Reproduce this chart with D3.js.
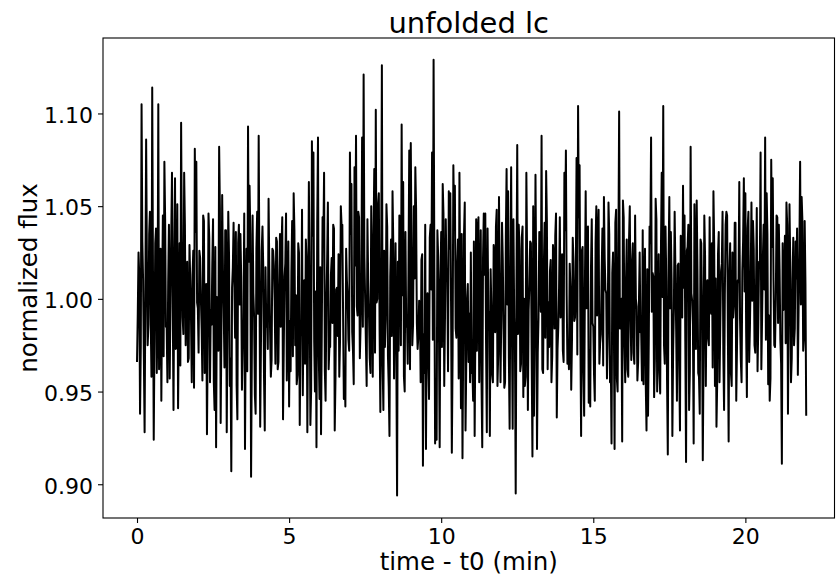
<!DOCTYPE html>
<html>
<head>
<meta charset="utf-8">
<script src="https://cdn.jsdelivr.net/npm/d3@7"></script>
<style>
	body{margin:0;background:#fff;}
	svg{display:block;font-family:"DejaVu Sans",sans-serif;}
</style>
</head>
<body>
<svg id="chart" width="836" height="577"></svg>
<script>
const title = 'unfolded lc';
const xLabel = 'time - t0 (min)';
const yLabel = 'normalized flux';
const xTicks = [0,5,10,15,20];
const yTicks = [0.90,0.95,1.00,1.05,1.10];
const xLimits = [-1.118,22.93];
const yLimits = [0.8818,1.1407];
const cadence = 0.025; // minutes between samples

const fluxEven = [
	0.966,1.025,0.938,1.105,1.010,0.928,1.086,0.975,1.035,0.990,
	1.114,0.924,1.030,0.960,1.105,0.980,0.945,1.045,1.074,0.985,
	0.955,1.040,1.000,1.068,0.940,1.065,0.975,0.941,1.030,1.095,
	0.990,1.068,0.975,1.020,0.968,1.010,0.955,1.026,1.081,1.074,
	0.995,1.026,
	1.000,0.956,1.042,0.985,0.927,1.046,0.955,0.986,1.043,0.940,
	0.920,1.000,1.082,0.933,1.056,0.995,1.037,0.928,1.047,0.953,
	0.907,1.017,1.008,1.036,0.935,1.040,1.035,0.951,0.985,0.919,
	1.027,1.093,1.061,0.904,1.045,0.990,0.938,1.047,1.088,0.931,
	1.026,1.017,0.929,
	0.985,0.973,1.016,0.958,1.027,1.018,0.965,1.031,0.966,1.035,
	1.027,0.935,1.012,1.046,0.990,0.942,0.961,1.042,1.057,0.975,
	0.954,1.030,0.932,0.985,0.948,1.010,1.032,0.928,1.063,0.932,
	1.085,1.079,0.950,0.920,1.087,0.946,0.927,1.044,1.068,0.945,
	1.020,0.962,
	0.974,1.022,1.040,0.929,1.005,0.980,0.958,1.050,1.040,0.946,
	0.942,1.010,0.978,1.079,1.062,0.972,1.071,1.088,0.991,1.044,
	0.985,1.087,1.121,1.000,0.953,1.010,0.968,1.050,0.958,1.070,
	1.102,1.000,1.057,0.939,1.126,0.940,0.974,1.051,0.969,0.926,
	1.032,1.058,0.957,
	1.030,0.894,0.972,1.035,1.094,1.063,0.950,0.985,0.965,1.080,
	1.084,0.975,1.050,1.071,0.987,0.980,0.995,1.021,0.910,0.960,
	0.919,1.003,0.946,1.040,1.079,1.129,0.922,0.924,1.023,0.920,
	1.036,1.062,0.953,1.043,1.010,1.058,1.057,0.917,1.072,1.061,
	0.979,1.032,1.068,
	0.941,0.914,1.035,0.929,1.000,0.966,0.955,0.960,0.945,0.926,
	1.043,1.035,0.955,1.037,0.920,1.046,1.046,0.928,0.993,0.926,
	0.995,0.955,1.022,1.039,0.953,1.055,0.955,1.041,0.984,0.955,
	1.070,1.058,0.930,1.071,0.930,0.990,0.895,1.083,1.040,0.961,
	1.033,0.947,
	0.953,1.068,0.940,1.008,1.030,0.915,0.937,1.067,0.919,0.990,
	1.010,1.088,0.960,1.041,1.069,0.962,0.974,1.021,0.969,1.022,
	1.034,0.936,0.985,1.044,1.000,0.972,1.068,1.080,0.965,0.962,
	1.005,0.978,1.020,0.990,1.076,1.104,1.072,0.926,1.028,0.937,
	1.058,1.037,0.944,
	0.942,1.043,0.985,0.945,1.050,1.032,0.965,0.981,1.038,1.055,
	1.005,0.957,1.052,0.955,0.922,1.025,0.919,1.048,0.950,1.101,
	0.988,0.923,1.044,0.955,1.032,0.958,1.050,0.967,1.030,0.965,
	1.000,0.956,0.997,0.982,0.956,0.954,1.027,0.929,0.937,1.039,
	1.087,1.014,0.947,
	1.054,0.950,1.024,0.949,1.068,1.104,0.965,1.010,0.916,1.055,
	1.036,0.926,0.995,1.015,0.945,1.019,0.929,1.028,1.061,1.045,
	0.912,1.028,0.940,1.082,0.999,0.922,1.020,1.053,0.960,0.938,
	1.030,0.913,1.045,0.953,1.010,0.975,1.000,1.030,1.058,0.953,
	0.931,1.024,
	0.955,1.015,1.047,0.940,1.040,1.045,0.923,1.030,0.953,0.990,
	1.041,0.945,1.010,1.063,0.967,1.015,1.065,1.057,0.947,1.047,
	0.985,1.052,1.042,0.975,1.005,0.961,1.020,1.079,0.990,1.040,
	1.087,1.057,0.954,0.945,1.075,1.065,0.975,1.000,1.044,1.040,
	0.978,0.911,0.994,1.034,1.052,0.938,1.051,0.955,1.010,0.975,
	1.031,1.038,0.995,1.074,1.055,0.972,1.042,0.937
];

// odd samples, in between: the dense core of the band, estimated
const fluxOdd = [
	0.992,1.012,0.975,1.031,0.968,1.004,1.021,0.986,1.047,0.958,
	1.015,0.979,1.038,0.991,0.962,1.027,1.002,0.969,1.043,0.985,
	1.009,0.957,1.034,0.996,1.018,0.973,1.051,0.988,0.964,1.025,
	0.981,1.040,1.003,0.966,1.029,0.990,1.013,0.952,1.036,0.998,
	0.971,1.022,0.984,1.045,0.960,1.008,0.977,1.033,0.994,1.019,
	0.955,1.028,1.001,0.972,1.049,0.983,1.016,0.963,1.037,0.989,
	1.024,0.968,1.006,1.041,0.979,0.953,1.030,0.997,1.012,0.975,
	1.046,0.987,0.961,1.020,1.035,0.970,1.003,0.948,1.027,0.992,
	1.011,0.976,1.039,0.958,1.017,0.995,1.054,0.982,0.967,1.026,
	0.999,1.033,0.962,1.008,0.985,1.044,0.973,1.019,0.956,1.031,
	0.988,1.014,0.969,1.037,1.002,0.959,1.025,0.980,1.048,0.993,
	0.965,1.021,0.990,1.010,0.951,1.034,0.977,1.004,1.042,0.970,
	1.017,0.984,1.029,0.961,0.998,1.052,0.974,1.013,0.987,1.038,
	0.957,1.006,1.024,0.978,1.040,0.991,0.963,1.027,1.001,0.972,
	1.035,0.982,0.954,1.018,0.996,1.047,0.968,1.009,0.985,1.023,
	0.976,1.043,0.993,0.960,1.015,1.032,0.971,0.998,1.051,0.983,
	1.007,0.964,1.026,0.989,1.039,0.953,1.012,0.980,1.030,0.997,
	0.969,1.020,1.045,0.975,1.002,0.958,1.036,0.991,1.016,0.962,
	1.028,0.986,1.011,1.049,0.973,0.999,0.955,1.024,0.981,1.040,
	0.994,0.967,1.033,1.005,0.978,1.019,0.950,1.037,0.988,1.010,
	0.974,1.046,0.990,1.014,0.961,1.027,0.996,0.970,1.041,0.984,
	1.018,0.957,1.003,1.035,0.979,1.052,0.966,1.008,0.992,1.025,
	0.963,1.031,0.987,0.972,1.044,1.001,0.956,1.022,1.013,0.976,
	1.038,0.993,1.016,0.959,1.029,0.982,1.048,0.970,1.005,0.989,
	1.021,0.952,1.034,0.997,0.968,1.012,0.985,1.043,0.974,1.009,
	0.981,1.027,0.965,1.039,1.000,0.958,1.023,0.994,1.031,0.967,
	1.050,0.986,1.010,0.971,1.036,0.993,0.962,1.018,0.979,1.042,
	0.998,1.015,0.955,1.029,0.984,1.046,0.973,1.006,0.990,1.024,
	0.966,1.037,1.002,0.977,1.019,0.951,1.033,0.988,1.011,0.970,
	1.044,0.983,1.026,0.960,1.008,0.995,1.039,0.972,1.017,0.987,
	0.959,1.030,0.991,1.048,0.976,1.013,0.964,1.022,1.003,0.980,
	1.035,0.969,1.014,0.992,1.041,0.957,1.027,0.984,1.000,1.053,
	0.975,1.009,0.962,1.032,0.989,1.020,0.971,1.045,0.996,0.966,
	1.025,0.982,1.037,1.004,0.954,1.016,0.978,1.030,0.993,1.012,
	0.968,1.043,0.987,0.960,1.028,1.001,0.975,1.039,0.956,1.021,
	0.995,1.010,0.972,1.047,0.983,1.018,0.964,1.034,0.990,1.006,
	0.977,1.026,1.040,0.961,1.003,0.986,1.051,0.973,1.015,0.958,
	1.032,0.994,0.969,1.023,1.008,0.979,1.044,0.992,0.963,1.029,
	1.011,0.956,1.036,0.985,1.019,0.970,1.002,1.047,0.981,1.014,
	0.960,1.025,0.997,1.041,0.974,1.009,0.988,0.955,1.031,1.004,
	0.983,1.038,0.966,1.013,0.999,1.027,0.971,1.049,0.986,1.017,
	0.962,1.022,1.005,0.978,1.035,0.991,0.957,1.028,1.010,0.974,
	1.045,0.987,1.016,0.965,1.030,1.001,0.976,1.040,0.993,1.020,
	0.968,1.033,0.984,1.011,0.959,1.026,0.997,1.042,0.979,1.008
];

function render(){
	const svg = d3.select('#chart');
	const width = +svg.attr('width');
	const height = +svg.attr('height');
	const margin = {top:38,right:1.5,bottom:59,left:103};

	// put the two halves back in time order
	const flux = [];
	fluxEven.forEach((v,i)=>{
		flux.push(v);
		if(i < fluxOdd.length) flux.push(fluxOdd[i]);
	});

	const x = d3.scaleLinear()
		.domain(xLimits)
		.range([margin.left,width-margin.right]);
	const y = d3.scaleLinear()
		.domain(yLimits)
		.range([height-margin.bottom,margin.top]);

	const line = d3.line()
		.x((d,i) => x(i*cadence))
		.y(d => y(d));

	svg.append('path')
		.datum(flux)
		.attr('fill','none')
		.attr('stroke','#000')
		.attr('stroke-width',2)
		.attr('stroke-linejoin','round')
		.attr('d',line);

	const xAxis = d3.axisBottom(x)
		.tickValues(xTicks)
		.tickFormat(d3.format('d'))
		.tickSize(5)
		.tickPadding(5)
		.tickSizeOuter(0);
	const yAxis = d3.axisLeft(y)
		.tickValues(yTicks)
		.tickFormat(d3.format('.2f'))
		.tickSize(5)
		.tickPadding(5)
		.tickSizeOuter(0);

	const gx = svg.append('g')
		.attr('transform',`translate(0,${height-margin.bottom})`)
		.call(xAxis);
	const gy = svg.append('g')
		.attr('transform',`translate(${margin.left},0)`)
		.call(yAxis);
	[gx,gy].forEach(g=>{
		g.select('.domain').remove();
		g.selectAll('.tick line').attr('stroke','#000').attr('stroke-width',1.1);
		g.selectAll('.tick text')
			.attr('fill','#000')
			.style('font-family','"DejaVu Sans",sans-serif')
			.style('font-size','22px');
	});
	gy.selectAll('.tick text').attr('dy','0.4em');

	// frame
	svg.append('rect')
		.attr('x',margin.left)
		.attr('y',margin.top)
		.attr('width',width-margin.right-margin.left)
		.attr('height',height-margin.bottom-margin.top)
		.attr('fill','none')
		.attr('stroke','#000')
		.attr('stroke-width',1.1);

	svg.append('text')
		.attr('x',(margin.left+width-margin.right)/2)
		.attr('y',33)
		.attr('text-anchor','middle')
		.style('font-size','29px')
		.text(title);

	svg.append('text')
		.attr('x',(margin.left+width-margin.right)/2)
		.attr('y',570)
		.attr('text-anchor','middle')
		.style('font-size','24.5px')
		.text(xLabel);

	svg.append('text')
		.attr('transform',`translate(37,${(margin.top+height-margin.bottom)/2}) rotate(-90)`)
		.attr('text-anchor','middle')
		.style('font-size','24.5px')
		.text(yLabel);
}

render();
</script>
</body>
</html>
